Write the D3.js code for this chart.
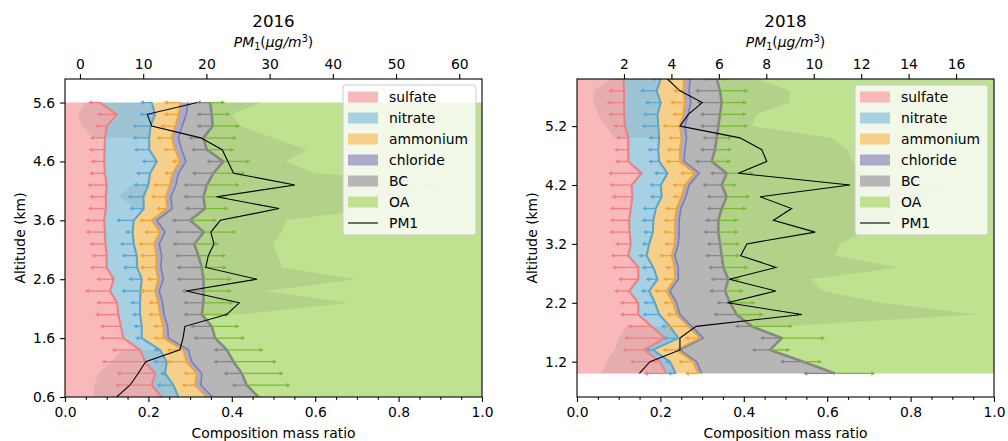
<!DOCTYPE html>
<html>
<head>
<meta charset="utf-8">
<script src="https://cdn.jsdelivr.net/npm/d3@7"></script>
<style>
	body { margin: 0; background: #fff; }
	svg text { font-family: "DejaVu Sans", sans-serif; fill: #000; }
</style>
</head>
<body>
<svg id="chart" width="1008" height="441"></svg>
<script>
const species = ["sulfate", "nitrate", "ammonium", "chloride", "BC", "OA"];

// 2016 profile, altitude levels bottom -> top
const alt16 = [0.6, 0.8, 1.0, 1.2, 1.4, 1.6, 1.8, 2.0, 2.2, 2.4, 2.6, 2.8, 3.0, 3.2, 3.4, 3.6, 3.8, 4.0, 4.2, 4.4, 4.6, 4.8, 5.0, 5.2, 5.4, 5.6];
const sulfate16 = [0.232, 0.208, 0.216, 0.192, 0.180, 0.140, 0.134, 0.128, 0.125, 0.108, 0.117, 0.100, 0.100, 0.097, 0.096, 0.094, 0.098, 0.098, 0.100, 0.096, 0.094, 0.095, 0.096, 0.100, 0.124, 0.084];
const nitrate16 = [0.040, 0.052, 0.024, 0.052, 0.048, 0.044, 0.050, 0.052, 0.055, 0.073, 0.067, 0.073, 0.072, 0.068, 0.066, 0.071, 0.091, 0.090, 0.100, 0.108, 0.126, 0.107, 0.106, 0.105, 0.092, 0.124];
const ammonium16 = [0.068, 0.052, 0.076, 0.048, 0.056, 0.052, 0.052, 0.048, 0.044, 0.035, 0.040, 0.045, 0.048, 0.049, 0.066, 0.043, 0.056, 0.054, 0.052, 0.054, 0.056, 0.062, 0.054, 0.060, 0.057, 0.069];
const chloride16 = [0.014, 0.014, 0.012, 0.012, 0.012, 0.012, 0.010, 0.010, 0.010, 0.010, 0.012, 0.012, 0.012, 0.012, 0.012, 0.012, 0.012, 0.012, 0.014, 0.014, 0.014, 0.016, 0.016, 0.016, 0.018, 0.018];
const bc16 = [0.110, 0.110, 0.096, 0.100, 0.092, 0.112, 0.106, 0.090, 0.098, 0.106, 0.096, 0.098, 0.088, 0.084, 0.093, 0.080, 0.079, 0.078, 0.074, 0.084, 0.090, 0.060, 0.060, 0.073, 0.061, 0.053];
const oa16 = [0.536, 0.564, 0.576, 0.596, 0.612, 0.640, 0.648, 0.672, 0.668, 0.668, 0.668, 0.672, 0.680, 0.690, 0.667, 0.700, 0.664, 0.668, 0.660, 0.644, 0.620, 0.660, 0.668, 0.646, 0.648, 0.652];
const sulfateErr16 = [null, 0.080, 0.084, 0.096, 0.060, 0.048, 0.042, 0.048, 0.042, 0.052, 0.034, 0.032, 0.028, 0.030, 0.038, 0.037, 0.035, 0.032, 0.038, 0.030, 0.024, 0.030, 0.028, 0.020, 0.040, 0.020];
const nitrateErr16 = [null, 0.032, 0.004, 0.024, 0.008, 0.008, 0.012, 0.012, 0.016, 0.038, 0.024, 0.026, 0.028, 0.026, 0.010, 0.034, 0.027, 0.030, 0.028, 0.026, 0.028, 0.029, 0.032, 0.035, 0.030, 0.020];
const ammoniumErr16 = [null, 0.024, 0.024, 0.040, 0.032, 0.016, 0.016, 0.020, 0.016, 0.028, 0.020, 0.030, 0.032, 0.030, 0.030, 0.022, 0.018, 0.028, 0.032, 0.012, 0.012, 0.020, 0.028, 0.028, 0.028, 0.032];
const bcErr16 = [null, 0.028, 0.036, 0.040, 0.024, 0.044, 0.044, 0.036, 0.040, 0.044, 0.056, 0.052, 0.048, 0.044, 0.062, 0.036, 0.040, 0.040, 0.048, 0.044, 0.032, 0.030, 0.028, 0.030, 0.028, 0.024];
const oaErr16 = [null, 0.096, 0.092, 0.096, 0.080, 0.064, 0.058, 0.058, 0.064, 0.060, 0.060, 0.052, 0.058, 0.052, 0.070, 0.056, 0.048, 0.048, 0.070, 0.068, 0.056, 0.058, 0.072, 0.058, 0.036, 0.028];
const pm16 = [5.8, 7.9, 9.2, 10.4, 15.8, 16.3, 16.6, 23.2, 25.2, 16.8, 28.0, 19.9, 20.3, 21.2, 20.7, 22.2, 31.5, 21.6, 34.0, 24.3, 23.4, 22.5, 19.1, 11.35, 10.65, 18.56];
// variability shading: left edge in the sulfate zone, right edge in the OA zone
const shadeLow16 = [0.07, 0.07, 0.08, 0.11, 0.14, null, null, null, null, null, null, null, null, null, null, null, 0.17, 0.13, 0.16, null, null, null, 0.07, 0.04, 0.03, 0.05];
const shadeHigh16 = [null, null, null, null, null, null, null, 0.42, 0.68, 0.48, 0.70, 0.52, 0.51, 0.50, 0.52, 0.53, 0.75, 0.76, 0.95, 0.60, 0.53, 0.58, 0.50, 0.42, 0.40, 0.47];

// 2018 profile
const alt18 = [1.0, 1.2, 1.4, 1.6, 1.8, 2.0, 2.2, 2.4, 2.6, 2.8, 3.0, 3.2, 3.4, 3.6, 3.8, 4.0, 4.2, 4.4, 4.6, 4.8, 5.0, 5.2, 5.4, 5.6, 5.8, 6.0];
const sulfate18 = [0.215, 0.199, 0.161, 0.211, 0.179, 0.147, 0.147, 0.125, 0.147, 0.147, 0.123, 0.129, 0.126, 0.125, 0.129, 0.133, 0.131, 0.155, 0.123, 0.123, 0.123, 0.115, 0.113, 0.113, 0.113, 0.111];
const nitrate18 = [0.022, 0.024, 0.021, 0.032, 0.044, 0.050, 0.040, 0.048, 0.046, 0.036, 0.044, 0.044, 0.056, 0.058, 0.060, 0.070, 0.070, 0.062, 0.074, 0.072, 0.074, 0.080, 0.080, 0.088, 0.078, 0.090];
const ammonium18 = [0.054, 0.056, 0.057, 0.052, 0.044, 0.042, 0.044, 0.042, 0.042, 0.052, 0.060, 0.062, 0.053, 0.052, 0.050, 0.048, 0.058, 0.066, 0.050, 0.052, 0.054, 0.052, 0.062, 0.058, 0.064, 0.056];
const chloride18 = [0.008, 0.008, 0.008, 0.008, 0.008, 0.008, 0.008, 0.008, 0.008, 0.008, 0.008, 0.008, 0.010, 0.010, 0.010, 0.010, 0.010, 0.010, 0.010, 0.012, 0.012, 0.012, 0.012, 0.014, 0.014, 0.014];
const bc18 = [0.320, 0.256, 0.216, 0.188, 0.144, 0.136, 0.128, 0.132, 0.120, 0.108, 0.112, 0.100, 0.094, 0.094, 0.098, 0.098, 0.078, 0.066, 0.066, 0.072, 0.072, 0.080, 0.076, 0.074, 0.074, 0.064];
const oa18 = [0.381, 0.457, 0.537, 0.509, 0.581, 0.617, 0.633, 0.645, 0.637, 0.649, 0.653, 0.657, 0.661, 0.661, 0.653, 0.641, 0.653, 0.641, 0.677, 0.669, 0.665, 0.661, 0.657, 0.653, 0.657, 0.665];
const sulfateErr18 = [0.046, 0.064, 0.043, 0.090, 0.050, 0.036, 0.036, 0.028, 0.040, 0.054, 0.034, 0.030, 0.040, 0.038, 0.042, 0.042, 0.044, 0.072, 0.024, 0.026, 0.022, 0.020, 0.030, 0.034, 0.030, 0.024];
const nitrateErr18 = [0.012, 0.004, 0.008, 0.028, 0.014, 0.032, 0.020, 0.012, 0.020, 0.020, 0.012, 0.010, 0.016, 0.020, 0.024, 0.020, 0.019, 0.024, 0.018, 0.018, 0.018, 0.032, 0.027, 0.030, 0.032, 0.014];
const ammoniumErr18 = [0.024, 0.028, 0.026, 0.028, 0.044, 0.016, 0.016, 0.022, 0.020, 0.016, 0.022, 0.018, 0.020, 0.020, 0.020, 0.014, 0.022, 0.028, 0.026, 0.024, 0.024, 0.034, 0.018, 0.028, 0.016, 0.030];
const bcErr18 = [0.068, 0.048, 0.036, 0.044, 0.032, 0.048, 0.024, 0.030, 0.034, 0.028, 0.032, 0.024, 0.028, 0.024, 0.028, 0.040, 0.038, 0.032, 0.032, 0.028, 0.026, 0.036, 0.040, 0.052, 0.052, 0.024];
const oaErr18 = [0.088, 0.036, 0.040, 0.096, 0.090, 0.056, 0.052, 0.036, 0.020, 0.052, 0.036, 0.040, 0.040, 0.040, 0.052, 0.048, 0.028, 0.056, 0.038, 0.032, 0.028, 0.064, 0.056, 0.052, 0.060, 0.016];
const pm18 = [2.65, 3.10, 4.36, 4.36, 5.04, 9.50, 6.36, 8.40, 6.44, 8.41, 6.92, 7.18, 10.06, 8.30, 9.07, 7.74, 11.53, 6.82, 8.02, 7.81, 6.89, 4.36, 4.71, 5.30, 4.36, 3.83];
const shadeLow18 = [0.06, 0.07, 0.09, 0.10, 0.12, null, null, null, null, null, null, null, null, null, null, null, null, null, null, null, 0.09, 0.07, 0.05, 0.04, 0.04, 0.08];
const shadeHigh18 = [null, null, null, null, 0.50, 0.96, 0.73, 0.59, 0.56, 0.77, 0.62, 0.63, 0.69, 0.75, 0.78, 0.83, 0.89, 0.70, 0.66, 0.65, 0.61, 0.42, 0.43, 0.51, 0.51, 0.43];

// axis ticks
const ratioTicks = [0, 0.2, 0.4, 0.6, 0.8, 1.0];
const altTicks16 = [0.6, 1.6, 2.6, 3.6, 4.6, 5.6];
const altTicks18 = [1.2, 2.2, 3.2, 4.2, 5.2];
const pmTicks16 = [0, 10, 20, 30, 40, 50, 60];
const pmTicks18 = [2, 4, 6, 8, 10, 12, 14, 16];

const fillColor = { sulfate: "#f9b8b9", nitrate: "#a7d1e3", ammonium: "#f6d08b", chloride: "#abaacb", BC: "#b6b6b6", OA: "#bee290" };
const lineColor = { sulfate: "#f37d81", nitrate: "#56a7d4", ammonium: "#efa530", chloride: "#7d7db9", BC: "#878787", OA: "#77bc34" };

const svg = d3.select("#chart");
const plotTop = 79, plotBottom = 397, plotWidth = 417;
const fontSize = 13.9;

function drawPanel(cfg) {
	const x = d3.scaleLinear().domain([0, 1]).range([cfg.left, cfg.left + plotWidth]);
	const y = d3.scaleLinear().domain([0.6, 6.0]).range([plotBottom, plotTop]);
	const xPm = d3.scaleLinear().domain(cfg.pmDomain).range([cfg.left, cfg.left + plotWidth]);

	const rows = cfg.alt.map((a, i) => {
		const row = { alt: a };
		species.forEach((s) => (row[s] = cfg.comp[s][i]));
		return row;
	});
	const stacked = d3.stack().keys(species)(rows);

	const clipId = `clip${cfg.title}`;
	svg.append("clipPath").attr("id", clipId)
		.append("rect").attr("x", cfg.left).attr("y", plotTop).attr("width", plotWidth).attr("height", plotBottom - plotTop);
	const g = svg.append("g").attr("clip-path", `url(#${clipId})`);

	const area = d3.area().y((d) => y(d.data.alt)).x0((d) => x(d[0])).x1((d) => x(d[1]));
	g.selectAll("path.area").data(stacked).enter().append("path")
		.attr("class", "area").attr("d", area).attr("fill", (d) => fillColor[d.key]);

	// shaded variability zones
	const bandArea = d3.area().defined((d) => d.lo != null && d.hi != null)
		.y((d) => y(d.alt)).x0((d) => x(d.lo)).x1((d) => x(d.hi));
	const nitrateTop = stacked[1], bcTop = stacked[4];
	const bandA = cfg.alt.map((a, i) => ({ alt: a, lo: cfg.shadeLow[i], hi: nitrateTop[i][1] }));
	const bandB = cfg.alt.map((a, i) => ({ alt: a, lo: bcTop[i][1], hi: cfg.shadeHigh[i] }));
	[bandA, bandB].forEach((band) => {
		g.append("path").attr("d", bandArea(band)).attr("fill", "rgba(100,100,100,0.12)");
	});

	// boundary lines
	const edge = d3.line().x((d) => x(d[1])).y((d) => y(d.data.alt));
	stacked.slice(0, 5).forEach((layer) => {
		g.append("path").attr("d", edge(layer)).attr("fill", "none")
			.attr("stroke", lineColor[layer.key])
			.attr("stroke-width", layer.key === "chloride" ? 1.6 : layer.key === "BC" ? 2.6 : 2.1);
	});

	// one-sided error bars with arrow heads
	function arrows(layerIndex, errs, color, dir) {
		const layer = stacked[layerIndex];
		const bars = cfg.alt.map((a, i) => ({ alt: a, start: layer[i][1], err: errs[i] })).filter((d) => d.err != null);
		const eg = g.append("g");
		bars.forEach((d) => {
			const x0 = x(d.start), x1 = x(d.start + dir * d.err), yy = y(d.alt);
			eg.append("line").attr("x1", x0).attr("x2", x1).attr("y1", yy).attr("y2", yy)
				.attr("stroke", color).attr("stroke-width", 1.3);
			eg.append("path")
				.attr("d", `M${x1 - dir * 0.5},${yy - 2.2}L${x1 + dir * 3.5},${yy}L${x1 - dir * 0.5},${yy + 2.2}Z`)
				.attr("fill", color);
		});
	}
	arrows(0, cfg.err.sulfate, lineColor.sulfate, -1);
	arrows(1, cfg.err.nitrate, lineColor.nitrate, -1);
	arrows(2, cfg.err.ammonium, lineColor.ammonium, -1);
	arrows(4, cfg.err.BC, lineColor.BC, -1);
	arrows(4, cfg.err.OA, lineColor.OA, 1);

	// PM1 on the twin top axis
	const pmLine = d3.line().x((d) => xPm(d.v)).y((d) => y(d.alt));
	g.append("path").attr("d", pmLine(cfg.alt.map((a, i) => ({ alt: a, v: cfg.pm[i] }))))
		.attr("fill", "none").attr("stroke", "#000").attr("stroke-width", 1.1);

	// axes
	const styleAxis = (sel) => {
		sel.selectAll("path.domain").remove();
		sel.selectAll("line").attr("stroke", "#000").attr("stroke-width", 1.1);
		sel.selectAll("text").attr("font-size", fontSize).attr("font-family", "DejaVu Sans");
	};
	svg.append("g").attr("transform", `translate(0,${plotBottom})`)
		.call(d3.axisBottom(x).tickValues(ratioTicks).tickFormat(d3.format(".1f")).tickSize(4.9).tickPadding(4.9))
		.call(styleAxis);
	const minor = d3.range(0, 1.0001, 0.05).filter((v) => Math.abs(v * 5 - Math.round(v * 5)) > 1e-6);
	svg.append("g").attr("transform", `translate(0,${plotBottom})`)
		.call(d3.axisBottom(x).tickValues(minor).tickFormat("").tickSize(2.8))
		.call(styleAxis);
	svg.append("g").attr("transform", `translate(${cfg.left},0)`)
		.call(d3.axisLeft(y).tickValues(cfg.altTicks).tickFormat(d3.format(".1f")).tickSize(4.9).tickPadding(4.9))
		.call(styleAxis);
	svg.append("g").attr("transform", `translate(0,${plotTop})`)
		.call(d3.axisTop(xPm).tickValues(cfg.pmTicks).tickSize(4.9).tickPadding(4.9))
		.call(styleAxis);

	svg.append("rect").attr("x", cfg.left).attr("y", plotTop).attr("width", plotWidth).attr("height", plotBottom - plotTop)
		.attr("fill", "none").attr("stroke", "#000").attr("stroke-width", 1.1);

	const cx = cfg.left + plotWidth / 2;
	svg.append("text").attr("x", cx).attr("y", 27).attr("text-anchor", "middle").attr("font-size", 16.7).text(cfg.title);
	const pmLabel = svg.append("text").attr("x", cx).attr("y", 47).attr("text-anchor", "middle").attr("font-size", fontSize);
	pmLabel.append("tspan").attr("font-style", "italic").text("PM");
	pmLabel.append("tspan").attr("font-size", 9.7).attr("dy", 2.5).text("1");
	pmLabel.append("tspan").attr("dy", -2.5).text("(");
	pmLabel.append("tspan").attr("font-style", "italic").text("μg/m");
	pmLabel.append("tspan").attr("font-size", 9.7).attr("dy", -5.5).text("3");
	pmLabel.append("tspan").attr("dy", 5.5).text(")");

	svg.append("text").attr("x", cx).attr("y", 438).attr("text-anchor", "middle").attr("font-size", fontSize).text("Composition mass ratio");
	svg.append("text").attr("transform", `translate(${cfg.left - 40},${(plotTop + plotBottom) / 2}) rotate(-90)`)
		.attr("text-anchor", "middle").attr("font-size", fontSize).text("Altitude (km)");

	// legend
	const lx = cfg.left + plotWidth - 139, ly = 85;
	const lg = svg.append("g").attr("transform", `translate(${lx},${ly})`);
	lg.append("rect").attr("width", 133).attr("height", 150).attr("rx", 3)
		.attr("fill", "rgba(255,255,255,0.8)").attr("stroke", "#cccccc").attr("stroke-width", 1);
	const entries = species.concat(["PM1"]);
	entries.forEach((name, i) => {
		const ry = 12 + i * 21;
		if (name === "PM1") {
			lg.append("line").attr("x1", 5).attr("x2", 35).attr("y1", ry).attr("y2", ry).attr("stroke", "#000").attr("stroke-width", 1.1);
		} else {
			lg.append("rect").attr("x", 5).attr("y", ry - 5.5).attr("width", 30).attr("height", 11).attr("fill", fillColor[name]);
		}
		lg.append("text").attr("x", 46).attr("y", ry + 5).attr("font-size", fontSize).text(name);
	});
}

drawPanel({
	title: "2016", left: 65, alt: alt16,
	comp: { sulfate: sulfate16, nitrate: nitrate16, ammonium: ammonium16, chloride: chloride16, BC: bc16, OA: oa16 },
	err: { sulfate: sulfateErr16, nitrate: nitrateErr16, ammonium: ammoniumErr16, BC: bcErr16, OA: oaErr16 },
	pm: pm16, pmDomain: [-2.37, 63.6], pmTicks: pmTicks16, altTicks: altTicks16,
	shadeLow: shadeLow16, shadeHigh: shadeHigh16,
});
drawPanel({
	title: "2018", left: 577, alt: alt18,
	comp: { sulfate: sulfate18, nitrate: nitrate18, ammonium: ammonium18, chloride: chloride18, BC: bc18, OA: oa18 },
	err: { sulfate: sulfateErr18, nitrate: nitrateErr18, ammonium: ammoniumErr18, BC: bcErr18, OA: oaErr18 },
	pm: pm18, pmDomain: [0.02, 17.6], pmTicks: pmTicks18, altTicks: altTicks18,
	shadeLow: shadeLow18, shadeHigh: shadeHigh18,
});
</script>
</body>
</html>
